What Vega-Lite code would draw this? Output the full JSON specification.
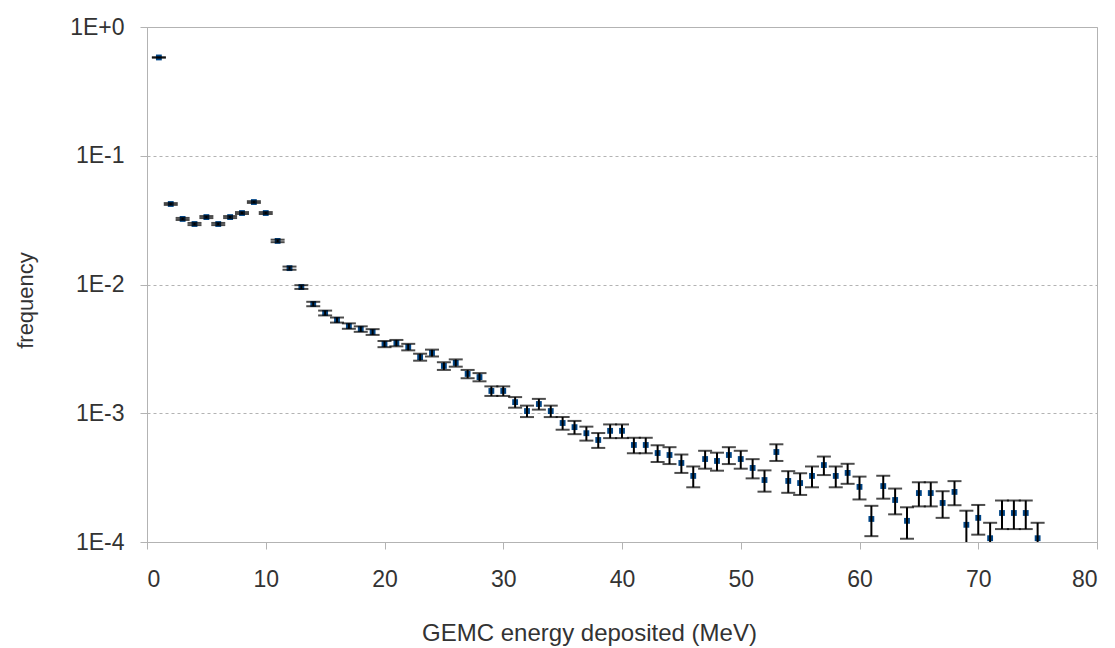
{
  "$schema": "https://vega.github.io/schema/vega-lite/v6.json",
  "width": 950,
  "height": 515,
  "autosize": {"type": "none"},
  "padding": {"left": 147, "top": 27, "right": 18, "bottom": 106},
  "background": "white",
  "config": {
    "font": "Liberation Sans",
    "view": {"stroke": "#b3b3b3", "strokeWidth": 1},
    "axis": {"labelFont": "Liberation Sans", "titleFont": "Liberation Sans", "labelColor": "#333333", "titleColor": "#333333", "titleFontWeight": "normal", "domainColor": "#b3b3b3", "tickColor": "#b3b3b3"}
  },
  "data": {"values": [
    {"x":1,"v":0.58,"e":0.0025},{"x":2,"v":0.0422,"e":0.00068},{"x":3,"v":0.0323,"e":0.00059},{"x":4,"v":0.0295,"e":0.00057},{"x":5,"v":0.0334,"e":0.0006},
    {"x":6,"v":0.0295,"e":0.00057},{"x":7,"v":0.0334,"e":0.0006},{"x":8,"v":0.0359,"e":0.00062},{"x":9,"v":0.0437,"e":0.00069},{"x":10,"v":0.0359,"e":0.00062},
    {"x":11,"v":0.0218,"e":0.00049},{"x":12,"v":0.0134,"e":0.00038},{"x":13,"v":0.00956,"e":0.00032},{"x":14,"v":0.00706,"e":0.00028},{"x":15,"v":0.00601,"e":0.00026},
    {"x":16,"v":0.0053,"e":0.00024},{"x":17,"v":0.00476,"e":0.00023},{"x":18,"v":0.00451,"e":0.00022},{"x":19,"v":0.00428,"e":0.00022},{"x":20,"v":0.00345,"e":0.00019},
    {"x":21,"v":0.00351,"e":0.0002},{"x":22,"v":0.00327,"e":0.00019},{"x":23,"v":0.00273,"e":0.00017},{"x":24,"v":0.00294,"e":0.00018},{"x":25,"v":0.00233,"e":0.00016},
    {"x":26,"v":0.00246,"e":0.00016},{"x":27,"v":0.00202,"e":0.00015},{"x":28,"v":0.00191,"e":0.00014},{"x":29,"v":0.00149,"e":0.000127},{"x":30,"v":0.00149,"e":0.000127},
    {"x":31,"v":0.00122,"e":0.000115},{"x":32,"v":0.00104,"e":0.000106},{"x":33,"v":0.00118,"e":0.000113},{"x":34,"v":0.00104,"e":0.000106},{"x":35,"v":0.00084,"e":0.000095},
    {"x":36,"v":0.00078,"e":0.000092},{"x":37,"v":0.0007,"e":0.000087},{"x":38,"v":0.00062,"e":0.000082},{"x":39,"v":0.00073,"e":0.000089},{"x":40,"v":0.00073,"e":0.000089},
    {"x":41,"v":0.000567,"e":0.000078},{"x":42,"v":0.000567,"e":0.000078},{"x":43,"v":0.000491,"e":0.000073},{"x":44,"v":0.000474,"e":0.000071},{"x":45,"v":0.000411,"e":0.000067},
    {"x":46,"v":0.000326,"e":0.00006},{"x":47,"v":0.000441,"e":0.00007},{"x":48,"v":0.000426,"e":0.000068},{"x":49,"v":0.000474,"e":0.000071},{"x":50,"v":0.000441,"e":0.00007},
    {"x":51,"v":0.000376,"e":0.000064},{"x":52,"v":0.000303,"e":0.000057},{"x":53,"v":0.0005,"e":0.000074},{"x":54,"v":0.000298,"e":0.000057},{"x":55,"v":0.000287,"e":0.000055},
    {"x":56,"v":0.000326,"e":0.00006},{"x":57,"v":0.000396,"e":0.000065},{"x":58,"v":0.000326,"e":0.00006},{"x":59,"v":0.000344,"e":0.000061},{"x":60,"v":0.000268,"e":0.000054},
    {"x":61,"v":0.000151,"e":0.00004},{"x":62,"v":0.000272,"e":0.000055},{"x":63,"v":0.000212,"e":0.000048},{"x":64,"v":0.000146,"e":0.00004},{"x":65,"v":0.00024,"e":0.000051},
    {"x":66,"v":0.00024,"e":0.000051},{"x":67,"v":0.000201,"e":0.000047},{"x":68,"v":0.000245,"e":0.000052},{"x":69,"v":0.000136,"e":0.000039},{"x":70,"v":0.000154,"e":0.00004},
    {"x":71,"v":0.000107,"e":0.000034},{"x":72,"v":0.000168,"e":0.000042},{"x":73,"v":0.000168,"e":0.000042},{"x":74,"v":0.000168,"e":0.000042},{"x":75,"v":0.000107,"e":0.000034}
  ]},
  "encoding": {
    "x": {"field": "x", "type": "quantitative",
      "scale": {"domain": [0, 80], "nice": false, "zero": false},
      "axis": {"values": [0,10,20,30,40,50,60,70,80], "grid": false, "title": "GEMC energy deposited (MeV)",
        "labelFontSize": 23, "titleFontSize": 24, "tickSize": 7, "labelPadding": 19,
        "titleX": 442, "titleY": 91, "titleBaseline": "middle", "titleAlign": "center"}},
    "y": {"field": "v", "type": "quantitative",
      "scale": {"type": "log", "domain": [0.0001, 1], "nice": false},
      "axis": {"values": [1, 0.1, 0.01, 0.001, 0.0001], "grid": true, "gridColor": "#b3b3b3", "gridDash": [3, 3],
        "labelExpr": "'1E' + (datum.value >= 1 ? '+0' : round(log(datum.value)/LN10))",
        "title": "frequency", "labelFontSize": 23, "titleFontSize": 22, "tickSize": 7, "labelPadding": 16,
        "titleX": -122, "titleY": 273, "titleBaseline": "middle", "titleAlign": "center", "titleAngle": -90}}
  },
  "layer": [
    {"mark": {"type": "point", "shape": "square", "filled": true, "size": 34, "color": "#004586", "opacity": 1, "clip": true}},
    {"mark": {"type": "errorbar", "color": "black", "thickness": 2,
      "ticks": {"size": 14, "clip": true, "strokeWidth": 2}, "rule": {"clip": true, "strokeWidth": 2}},
     "encoding": {"yError": {"field": "e"}}}
  ]
}
